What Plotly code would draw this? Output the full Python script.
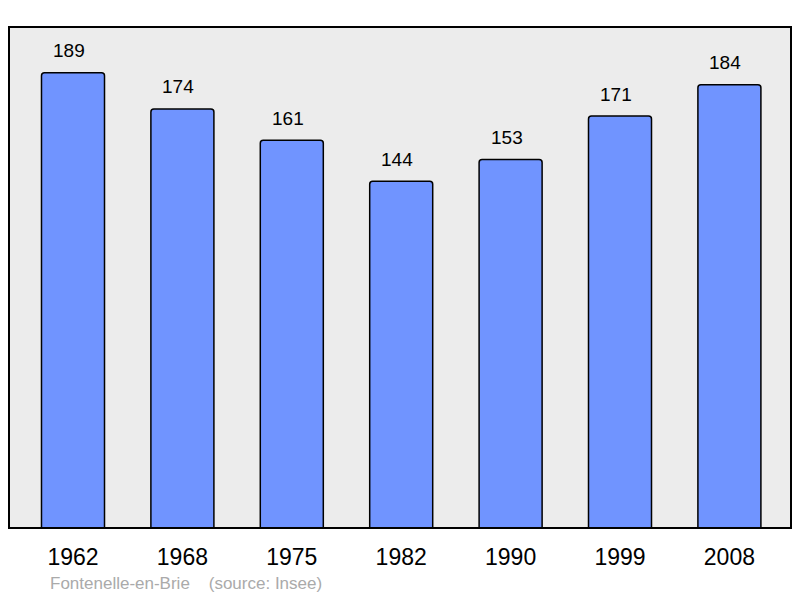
import plotly.graph_objects as go

years = ["1962", "1968", "1975", "1982", "1990", "1999", "2008"]
population = [189, 174, 161, 144, 153, 171, 184]
positions = list(range(len(years)))
footer_text = "Fontenelle-en-Brie    (source: Insee)"

FONT = "Liberation Sans, Arial, sans-serif"

fig = go.Figure()
fig.add_trace(go.Bar(
    x=positions, y=population, width=0.576,
    marker=dict(color="#7094ff", line=dict(color="#000000", width=1.5), cornerradius=3),
    hoverinfo="skip",
))

for xv, yv in zip(positions, population):
    fig.add_annotation(x=xv, y=yv, text=str(yv), showarrow=False,
                       yanchor="middle", yshift=22, xshift=-4,
                       font=dict(family=FONT, size=19, color="#000000"))

fig.add_annotation(xref="paper", yref="paper", x=(48 - 9) / 782, y=0, yshift=-55,
                   xanchor="left", yanchor="middle", text=footer_text, showarrow=False,
                   font=dict(family=FONT, size=17, color="#aaaaaa"))

fig.add_shape(type="rect", xref="paper", yref="paper", x0=0, y0=0, x1=1, y1=1,
              line=dict(color="#000000", width=2), layer="above")

fig.update_layout(
    width=800, height=598,
    margin=dict(l=9, r=9, t=27, b=70),
    paper_bgcolor="#ffffff", plot_bgcolor="#ececec",
    showlegend=False,
    xaxis=dict(range=[-0.585, 6.563], tickvals=positions, ticktext=years,
               showgrid=False, zeroline=False, showline=False,
               ticks="outside", ticklen=8, tickcolor="rgba(0,0,0,0)",
               tickfont=dict(family=FONT, size=23, color="#000000"),
               fixedrange=True),
    yaxis=dict(range=[0, 208], showgrid=False, zeroline=False, showline=False,
               showticklabels=False, ticks="", fixedrange=True),
)

fig.write_html("out.html", config={"displayModeBar": False},
               post_script="document.body.style.margin='0';document.body.style.padding='0';")
